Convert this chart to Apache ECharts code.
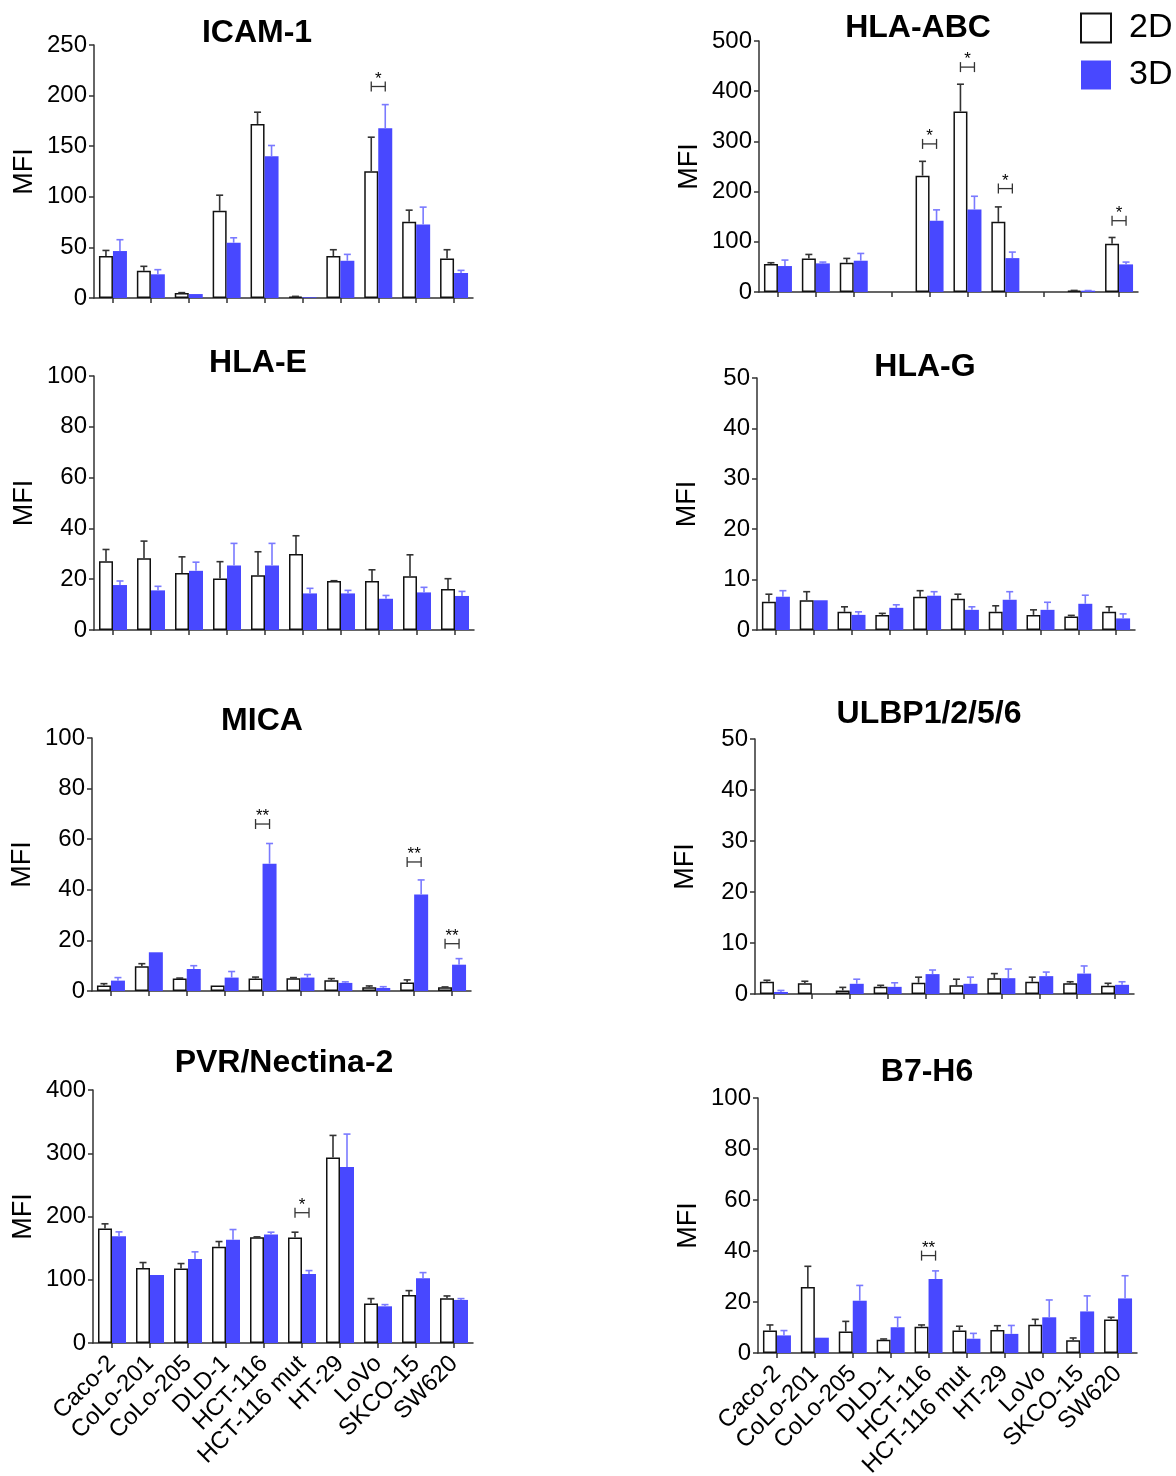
<!DOCTYPE html>
<html><head><meta charset="utf-8">
<script src="https://cdn.jsdelivr.net/npm/echarts@6/dist/echarts.min.js"></script>
<style>html,body{margin:0;padding:0;background:#fff}#c{width:1176px;height:1476px}</style>
</head><body><div id="c"></div>
<script>
const cats = ['Caco-2','CoLo-201','CoLo-205','DLD-1','HCT-116','HCT-116 mut','HT-29','LoVo','SKCO-15','SW620'];

const icam2D   = [41.4,27,4.9,86.2,172,1.3,41.4,125.3,75.3,39.1];
const icam2DSd = [5.6,4.3,0.4,15.4,11.6,0.3,6.3,33.6,11.5,8.6];
const icam3D   = [46.4,23.4,3.9,54.6,140.1,0.7,36.8,167.8,72.7,24.7];
const icam3DSd = [11.2,4.6,0,4.9,10.6,0,6.3,23.3,17.1,2.6];
const icamSig = [[7,209]], icamSigLbl = ['*'];

const abc2D   = [55.6,66.9,58.3,0,231.8,359.6,139.7,0,2.6,96];
const abc2DSd = [2.7,7.9,8.6,0,28.5,54.3,29.8,0,0.5,12.6];
const abc3D   = [51.7,57,62.3,0,141.7,164.2,67.5,0,2.6,55];
const abc3DSd = [11.9,2.6,14.5,0,21.9,26.5,12,0,0.3,4.6];
const abcSig = [[4,295],[5,448],[6,206],[9,142]], abcSigLbl = ['*','*','*','*'];

const hlae2D   = [27.1,28.2,22.4,20.3,21.6,29.9,19.3,19.3,21.2,16.1];
const hlae2DSd = [4.6,6.8,6.4,6.6,9.2,7.2,0.1,4.4,8.4,4.1];
const hlae3D   = [17.7,15.6,23.3,25.4,25.4,14.4,14.4,12.3,14.8,13.4];
const hlae3DSd = [1.6,1.6,3.4,8.7,8.7,2,1.2,1.3,2,1.8];

const hlag2D   = [5.6,5.9,3.6,3.0,6.6,6.2,3.6,3.0,2.7,3.6];
const hlag2DSd = [1.5,1.7,1.0,0.3,1.2,0.9,1.2,1.0,0.2,1.0];
const hlag3D   = [6.6,5.9,3.0,4.4,6.8,4.0,6.0,4.0,5.2,2.3];
const hlag3DSd = [1.2,0,0.6,0.6,0.8,0.6,1.6,1.5,1.7,0.9];

const mica2D   = [2.2,9.8,4.9,2.2,4.9,5.0,4.2,1.5,3.4,1.5];
const mica2DSd = [0.7,1.0,0.2,0,0.6,0.3,0.7,0.5,1.0,0.1];
const mica3D   = [4.1,15.3,8.7,5.3,50.3,5.3,3.2,1.2,38.1,10.4];
const mica3DSd = [1.2,0,1.3,2.4,8,1.2,0.4,0.5,5.8,2.4];
const micaSig = [[4,66],[8,51],[9,18.7]], micaSigLbl = ['**','**','**'];

const ulbp2D   = [2.4,2.1,0.7,1.4,2.2,1.7,3.1,2.4,2.1,1.6];
const ulbp2DSd = [0.3,0.4,0.6,0.3,1.1,1.2,0.9,0.9,0.3,0.5];
const ulbp3D   = [0.4,0,2.0,1.4,3.9,2.0,3.1,3.5,4.0,1.8];
const ulbp3DSd = [0.3,0,0.9,0.8,0.8,1.3,1.8,0.8,1.5,0.6];

const pvr2D   = [181,118.7,117.7,152,167.3,166.8,293.4,62.3,76,70.7];
const pvr2DSd = [7.4,8.5,7.9,8.4,0.5,8.4,34.8,7.9,6.8,3.7];
const pvr3D   = [168.9,107.7,133,163.1,171.5,109.2,278.1,58,102.4,68.1];
const pvr3DSd = [6.8,0,11.1,16.3,3.7,5.3,52.2,2.7,8.9,2.1];
const pvrSig = [[5,206]], pvrSigLbl = ['*'];

const b7h62D   = [8.8,25.9,8.4,5.2,10.3,8.8,9.0,11.1,5.0,13.1];
const b7h62DSd = [2.2,8.1,4.0,0.3,0.7,1.7,1.7,2.1,0.9,0.9];
const b7h63D   = [6.9,6.0,20.5,10.1,29,5.6,7.5,14,16.3,21.4];
const b7h63DSd = [1.9,0,6,3.9,3.2,2.1,3.3,6.8,6.1,8.9];
const b7h6Sig = [[4,38.2]], b7h6SigLbl = ['**'];

const FONT = 'Liberation Sans, Arial, sans-serif';
const BLUE = '#4848ff';
const BLUE_ERR = '#7a7aff';
const DARK = '#333333';

const panels = [
  {title:'ICAM-1', tx:257, ty:33, left:94, top:45, width:379, height:253, max:250, interval:50,
   d2:icam2D, s2:icam2DSd, d3:icam3D, s3:icam3DSd, sig:icamSig, sigL:icamSigLbl, xl:false},
  {title:'HLA-ABC', tx:918, ty:28, left:759, top:41, width:379, height:251, max:500, interval:100,
   d2:abc2D, s2:abc2DSd, d3:abc3D, s3:abc3DSd, sig:abcSig, sigL:abcSigLbl, xl:false},
  {title:'HLA-E', tx:258, ty:363, left:94, top:376, width:380, height:254, max:100, interval:20,
   d2:hlae2D, s2:hlae2DSd, d3:hlae3D, s3:hlae3DSd, sig:[], sigL:[], xl:false},
  {title:'HLA-G', tx:925, ty:367, left:757, top:378, width:378, height:252, max:50, interval:10,
   d2:hlag2D, s2:hlag2DSd, d3:hlag3D, s3:hlag3DSd, sig:[], sigL:[], xl:false},
  {title:'MICA', tx:262, ty:721, left:92, top:738, width:379, height:253, max:100, interval:20,
   d2:mica2D, s2:mica2DSd, d3:mica3D, s3:mica3DSd, sig:micaSig, sigL:micaSigLbl, xl:false},
  {title:'ULBP1/2/5/6', tx:929, ty:714, left:755, top:739, width:379, height:255, max:50, interval:10,
   d2:ulbp2D, s2:ulbp2DSd, d3:ulbp3D, s3:ulbp3DSd, sig:[], sigL:[], xl:false},
  {title:'PVR/Nectina-2', tx:284, ty:1063, left:93, top:1090, width:380, height:253, max:400, interval:100,
   d2:pvr2D, s2:pvr2DSd, d3:pvr3D, s3:pvr3DSd, sig:pvrSig, sigL:pvrSigLbl, xl:true},
  {title:'B7-H6', tx:927, ty:1072, left:758, top:1098, width:379, height:255, max:100, interval:20,
   d2:b7h62D, s2:b7h62DSd, d3:b7h63D, s3:b7h63DSd, sig:b7h6Sig, sigL:b7h6SigLbl, xl:true}
];

function errRender(sign, color) {
  return function (params, api) {
    const i = api.value(0), v = api.value(1), sd = api.value(2);
    if (!(sd > 0)) return;
    const p0 = api.coord([i, v]);
    const p1 = api.coord([i, v + sd]);
    const x = p0[0] + sign * 7;
    return {type:'group', children:[
      {type:'line', shape:{x1:x, y1:p0[1], x2:x, y2:p1[1]}, style:{stroke:color, lineWidth:1.6}},
      {type:'line', shape:{x1:x-3.5, y1:p1[1], x2:x+3.5, y2:p1[1]}, style:{stroke:color, lineWidth:1.6}}
    ]};
  };
}
function sigRender(labels) {
  return function (params, api) {
    const i = api.value(0), y = api.value(1);
    const p = api.coord([i, y]);
    const x1 = p[0] - 7, x2 = p[0] + 7, yy = p[1];
    return {type:'group', children:[
      {type:'line', shape:{x1:x1, y1:yy, x2:x2, y2:yy}, style:{stroke:DARK, lineWidth:1.3}},
      {type:'line', shape:{x1:x1, y1:yy-5, x2:x1, y2:yy+5}, style:{stroke:DARK, lineWidth:1.3}},
      {type:'line', shape:{x1:x2, y1:yy-5, x2:x2, y2:yy+5}, style:{stroke:DARK, lineWidth:1.3}},
      {type:'text', x:p[0], y:yy+1, style:{text:labels[params.dataIndex], fontSize:17, fontFamily:FONT,
        fill:'#000', align:'center', verticalAlign:'bottom', textAlign:'center', textVerticalAlign:'bottom'}}
    ]};
  };
}

const grid = [], xAxis = [], yAxis = [], series = [], graphic = [];
panels.forEach((p, k) => {
  grid.push({left:p.left, top:p.top, width:p.width, height:p.height, containLabel:false, outerBoundsMode:'none'});
  xAxis.push({type:'category', gridIndex:k, data:cats, boundaryGap:true,
    axisLine:{show:true, lineStyle:{color:DARK, width:1.5}},
    axisTick:{show:true, alignWithLabel:true, length:5, lineStyle:{color:DARK, width:1.5}},
    axisLabel:{show:p.xl, rotate:45, interval:0, fontSize:24, fontFamily:FONT, color:'#000', margin:17},
    splitLine:{show:false}});
  yAxis.push({type:'value', gridIndex:k, min:0, max:p.max, interval:p.interval,
    name:'MFI', nameLocation:'middle', nameGap:56, nameRotate:90,
    nameTextStyle:{fontSize:27, fontFamily:FONT, color:'#000'},
    axisLine:{show:true, lineStyle:{color:DARK, width:1.5}},
    axisTick:{show:true, length:5, lineStyle:{color:DARK, width:1.5}},
    axisLabel:{fontSize:24, fontFamily:FONT, color:'#000', margin:7},
    splitLine:{show:false}});
  series.push({name:'2D', type:'bar', xAxisIndex:k, yAxisIndex:k, data:p.d2.map(v => v > 0 ? v : '-'),
    barWidth:14, barGap:'0%',
    itemStyle:{color:'#ffffff', borderColor:'#111', borderWidth:1.5}, animation:false, z:2});
  series.push({name:'3D', type:'bar', xAxisIndex:k, yAxisIndex:k, data:p.d3.map(v => v > 0 ? v : '-'),
    barWidth:14, barGap:'0%',
    itemStyle:{color:BLUE}, animation:false, z:2});
  series.push({type:'custom', xAxisIndex:k, yAxisIndex:k, renderItem:errRender(-1, DARK),
    data:p.d2.map((v,i)=>[i, v, p.s2[i]]), encode:{x:0, y:1}, animation:false, z:3, silent:true});
  series.push({type:'custom', xAxisIndex:k, yAxisIndex:k, renderItem:errRender(1, BLUE_ERR),
    data:p.d3.map((v,i)=>[i, v, p.s3[i]]), encode:{x:0, y:1}, animation:false, z:3, silent:true});
  if (p.sig.length) series.push({type:'custom', xAxisIndex:k, yAxisIndex:k, renderItem:sigRender(p.sigL),
    data:p.sig, encode:{x:0, y:1}, animation:false, z:4, silent:true});
  graphic.push({type:'text', x:p.tx, y:p.ty, style:{text:p.title, fontSize:32, fontWeight:'bold', fontFamily:FONT,
    fill:'#000', align:'center', verticalAlign:'middle', textAlign:'center', textVerticalAlign:'middle'}});
});

const chart = echarts.init(document.getElementById('c'), null, {renderer:'canvas'});
chart.setOption({
  animation:false,
  backgroundColor:'#fff',
  legend:{data:[{name:'2D', icon:'rect'},{name:'3D', icon:'rect'}], orient:'vertical', left:1080, top:11, padding:0,
    itemWidth:30, itemHeight:29, itemGap:13,
    textStyle:{fontSize:34, lineHeight:29, fontFamily:FONT, color:'#000', padding:[0,0,0,13]}},
  grid, xAxis, yAxis, series, graphic
});
</script></body></html>
